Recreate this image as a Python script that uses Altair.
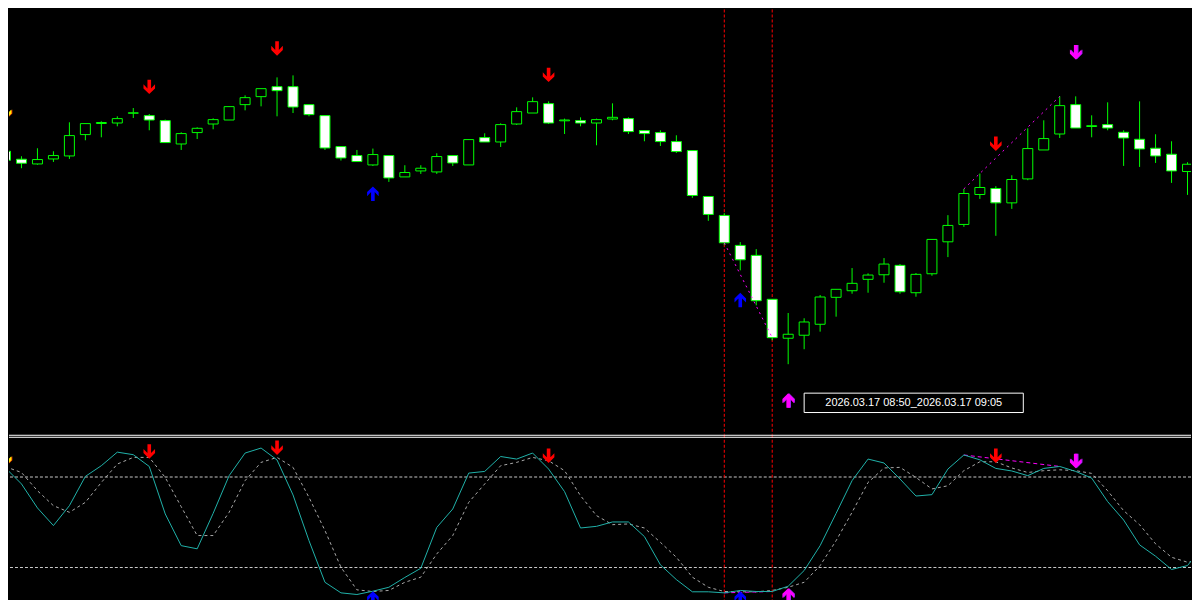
import altair as alt
import pandas as pd

# ---------------- price candles (bar index 0..75) ----------------
opens = [850, 842, 837.3, 842.3, 845.3, 866.7, 877.8, 878.3, 888.1, 885.7,
         880.7, 857.3, 868.7, 877.3, 881.3, 896.7, 904.7, 914.7, 914.7, 896.7,
         885.7, 854.7, 845.7, 836.3, 845.7, 824.3, 830.3, 829.3, 845.7, 836.3,
         863.7, 859.3, 877.3, 888.3, 897.7, 880.5, 880.7, 878.3, 882.3, 882.7,
         870.7, 868.7, 859.7, 850.7, 804.7, 785.7, 755.7, 745.7, 701.7, 662.7,
         665.7, 676.7, 703.7, 710.3, 721.7, 726.3, 735.7, 708.3, 727.3, 759.3,
         776.7, 806.7, 812.7, 798.3, 822.3, 851.3, 867.3, 896.7, 874.8, 876.7,
         869, 862, 853, 847, 829.7, 835]
highs = [855, 845, 853, 850, 879, 877.7, 880, 885, 893.3, 887.3,
         881.7, 869, 874, 883, 894.7, 906, 912.7, 924, 926, 896.7,
         885.7, 854.7, 851.3, 852.7, 845.7, 836, 836, 848, 845.7, 861.7,
         868, 878, 894, 904, 900, 882.7, 884, 882.7, 898, 884,
         870.7, 871, 866, 850.7, 804.7, 788, 759, 752, 701.7, 688,
         682.7, 706, 711.7, 733, 727.7, 743, 737, 728, 761.7, 786,
         812.3, 827.7, 815, 826, 873, 881, 905, 905, 886, 899,
         871, 900, 867, 860, 839, 862]
lows = [839, 833, 836.5, 839.3, 842.3, 861, 864, 875, 883.3, 871,
        858.7, 851.3, 862.3, 872, 881.3, 891, 895, 885, 888.3, 885,
        851.3, 840.7, 839.7, 835.3, 819.3, 824.3, 827.3, 827.3, 835.3, 836.3,
        859.3, 854.3, 876.3, 888.3, 877.3, 867.3, 875, 856, 881, 867.3,
        860, 855.3, 848.3, 803.3, 780.3, 756, 730.7, 695.7, 660.7, 636.7,
        651.7, 669.3, 684.3, 707.3, 708.3, 718.3, 707.3, 704.3, 725.3, 744,
        774.3, 802.3, 765.3, 792.3, 821, 851.3, 863.3, 873.3, 864, 871,
        835.3, 834.3, 838.3, 818.3, 806.3, 833]
closes = [841, 838, 841.7, 845.7, 865.7, 877.7, 878.8, 882.7, 888.5, 881.3,
          858.7, 867.7, 873, 881.7, 894.7, 903.7, 912.7, 910.7, 894.3, 886.7,
          853.3, 843.3, 839.7, 846.7, 823.3, 828.7, 833, 844.7, 838.3, 861.7,
          859.3, 876.7, 889.7, 899.7, 878.3, 881.3, 878.3, 881.7, 884, 869.7,
          867.7, 859.7, 849.7, 805.7, 786.7, 758.3, 741.3, 700.3, 663.3, 666.7,
          679, 704, 711.7, 717.7, 726, 737, 709.3, 726.7, 761.7, 775.7,
          807.7, 813.7, 798.3, 821.7, 852.7, 862.7, 895.7, 873.3, 875.6, 873.3,
          863.3, 852.3, 845.3, 830.3, 837, 860]

# ---------------- stochastic oscillator ----------------
stoch_main = [86.0, 75.4, 59.5, 47.8, 61.0, 80.4, 87.5, 96.5, 94.8, 87.0,
              55.5, 34.5, 32.4, 55.9, 80.9, 95.9, 99.2, 91.3, 68.1, 37.8,
              10.2, 3.2, 2.1, 4.3, 6.9, 13.4, 19.5, 46.6, 58.8, 82.6,
              83.7, 93.6, 91.9, 95.9, 85.3, 70.3, 46.2, 47.3, 50.2, 50.2,
              40.5, 21.8, 12.0, 3.9, 3.9, 3.2, 4.8, 4.1, 4.1, 7.6,
              18.0, 34.5, 55.9, 77.6, 91.9, 89.3, 78.7, 67.4, 68.3, 85.3,
              94.6, 91.4, 85.7, 84.0, 80.9, 85.7, 87.0, 83.7, 79.3, 63.7,
              51.5, 35.0, 27.5, 18.7, 21.3, 34.5]
stoch_signal = [86.8, 83.0, 70.9, 61.0, 56.6, 63.2, 76.4, 88.6, 93.0, 93.0,
                79.7, 60.3, 41.2, 41.2, 56.6, 77.6, 89.7, 93.0, 86.4, 66.5,
                44.5, 20.2, 5.2, 4.1, 4.8, 10.2, 13.6, 29.0, 41.2, 63.2,
                75.4, 87.5, 89.7, 93.0, 90.8, 84.2, 67.6, 54.4, 48.4, 48.9,
                46.2, 36.7, 26.8, 13.6, 6.9, 4.1, 3.9, 3.9, 4.8, 6.9,
                10.2, 21.3, 37.8, 56.6, 76.4, 86.0, 86.4, 79.7, 72.1, 74.2,
                84.2, 90.1, 90.1, 86.0, 83.0, 84.2, 84.8, 84.2, 82.4, 70.9,
                57.7, 48.4, 35.7, 26.8, 23.5, 25.3]
stoch_levels = [80, 20]

# ---------------- signals ----------------
sig_bar = [0, 9, 17, 23, 34, 46, 49, 62, 67]
sig_type = ["start", "sell", "sell", "buy", "sell", "buy", "div_buy", "sell", "div_sell"]
sig_price = [889.3, 914.5, 953.0, 807.5, 926.5, 701.0, 600.3, 857.5, 949.2]
sig_osc = [92.1, 96.9, 99.4, -0.5, 94.1, -0.5, 1.5, 94.1, 90.6]

# divergence segments
div_seg = ["a", "a", "b", "b"]
div_bar = [45, 48, 60, 66]
div_price = [758.3, 663.3, 812.3, 905.0]
div_osc = [3.2, 4.1, 94.6, 87.0]

# time-range marker lines
vline_bars = [45, 48]
range_label = "2026.03.17 08:50_2026.03.17 09:05"

# ---------------- frames ----------------
n = len(opens)
candles = pd.DataFrame({"i": list(range(n)), "open": opens, "high": highs,
                        "low": lows, "close": closes})
candles["dir"] = ["up" if c >= o else "down" for o, c in zip(opens, closes)]
stoch = pd.DataFrame({"i": list(range(len(stoch_main))), "main": stoch_main,
                      "signal": stoch_signal})
sigs = pd.DataFrame({"i": sig_bar, "type": sig_type, "price": sig_price, "osc": sig_osc})
divs = pd.DataFrame({"seg": div_seg, "i": div_bar, "price": div_price, "osc": div_osc})
vlines = pd.DataFrame({"i": vline_bars})
levels = pd.DataFrame({"v": stoch_levels})
label_box = pd.DataFrame({"i": [50.0], "i2": [63.72], "p": [588.3], "p2": [607.7],
                          "ic": [56.86], "pc": [598.0], "text": [range_label]})
dummy = pd.DataFrame({"a": [0]})

W = 1184
H_TOP = 426
H_BOT = 166
GREEN = "#00FF00"

xs = alt.Scale(domain=[0.21875, 74.21875], nice=False, zero=False, padding=0)
ys_top = alt.Scale(domain=[566, 992], nice=False, zero=False)
ys_bot = alt.Scale(domain=[-1.87, 108.0], nice=False, zero=False)
X = alt.X("i:Q", scale=xs, axis=None)

DOWN = "M-0.25,-1L0.25,-1L0.25,0.22L0.8,-0.36L0.8,0.22L0,1L-0.8,0.22L-0.8,-0.36L-0.25,0.22Z"
UP = "M-0.25,1L0.25,1L0.25,-0.22L0.8,0.36L0.8,-0.22L0,-1L-0.8,-0.22L-0.8,0.36L-0.25,-0.22Z"
ARROW_SIZE = 210
ARROWS = {
    "start": (DOWN, "#FFEE00", "#FF5000"),
    "sell": (DOWN, "#FF0000", None),
    "buy": (UP, "#0000FF", None),
    "div_sell": (DOWN, "#FF00FF", "#A020F0"),
    "div_buy": (UP, "#FF00FF", "#A020F0"),
}


def arrow_layers(field, yscale):
    out = []
    for t, (shape, col, shade) in ARROWS.items():
        sub = sigs[sigs["type"] == t]
        if len(sub) == 0:
            continue
        enc = dict(x=X, y=alt.Y(f"{field}:Q", scale=yscale, axis=None))
        if shade:
            out.append(alt.Chart(sub).mark_point(shape=shape, filled=True, size=ARROW_SIZE, opacity=1,
                                                 strokeWidth=0, color=shade, xOffset=1,
                                                 clip=True).encode(**enc))
        out.append(alt.Chart(sub).mark_point(shape=shape, filled=True, size=ARROW_SIZE, opacity=1,
                                             strokeWidth=0, color=col, clip=True).encode(**enc))
    return out


# ---------------- top panel ----------------
t_vlines = alt.Chart(vlines).mark_rule(color="#FF0000", strokeWidth=1, strokeDash=[3, 2]).encode(x=X)
t_wicks = alt.Chart(candles).mark_rule(color=GREEN, strokeWidth=1, clip=True).encode(
    x=X, y=alt.Y("low:Q", scale=ys_top, axis=None), y2="high:Q")
t_bodies = alt.Chart(candles).mark_bar(width=10, stroke=GREEN, strokeWidth=1, clip=True, opacity=1).encode(
    x=X, y=alt.Y("open:Q", scale=ys_top, axis=None), y2="close:Q",
    color=alt.Color("dir:N", scale=alt.Scale(domain=["up", "down"], range=["#000000", "#FFFFFF"]), legend=None))
t_div = alt.Chart(divs).mark_line(color="#FF00FF", strokeWidth=1, strokeDash=[2, 4], clip=True).encode(
    x=X, y=alt.Y("price:Q", scale=ys_top, axis=None), detail="seg:N")
t_box = alt.Chart(label_box).mark_rect(fill="#000000", stroke="#FFFFFF", strokeWidth=1).encode(
    x=alt.X("i:Q", scale=xs, axis=None), x2="i2:Q",
    y=alt.Y("p:Q", scale=ys_top, axis=None), y2="p2:Q")
t_text = alt.Chart(label_box).mark_text(color="#FFFFFF", font="Liberation Sans", fontSize=11,
                                        align="center", baseline="middle").encode(
    x=alt.X("ic:Q", scale=xs, axis=None), y=alt.Y("pc:Q", scale=ys_top, axis=None), text="text:N")

top = alt.layer(t_vlines, t_wicks, t_bodies, t_div, *arrow_layers("price", ys_top), t_box, t_text).properties(
    width=W, height=H_TOP)

# ---------------- bottom panel ----------------
b_sep1 = alt.Chart(dummy).mark_rule(color="#FFFFFF", strokeWidth=1).encode(
    x=alt.value(0), x2=alt.value(W), y=alt.value(0.5))
b_sep2 = alt.Chart(dummy).mark_rule(color="#FFFFFF", strokeWidth=1).encode(
    x=alt.value(0), x2=alt.value(W), y=alt.value(2.5))
b_levels = alt.Chart(levels).mark_rule(color="#C8C8C8", strokeWidth=1, strokeDash=[3, 2]).encode(
    y=alt.Y("v:Q", scale=ys_bot, axis=None))
b_vlines = alt.Chart(vlines).mark_rule(color="#FF0000", strokeWidth=1, strokeDash=[3, 2]).encode(x=X)
b_signal = alt.Chart(stoch).mark_line(color="#A8A8A8", strokeWidth=1, strokeDash=[3, 3], clip=True).encode(
    x=X, y=alt.Y("signal:Q", scale=ys_bot, axis=None))
b_div = alt.Chart(divs).mark_line(color="#FF00FF", strokeWidth=1, strokeDash=[4, 3], clip=True).encode(
    x=X, y=alt.Y("osc:Q", scale=ys_bot, axis=None), detail="seg:N")
b_main = alt.Chart(stoch).mark_line(color="#20B2AA", strokeWidth=1, clip=True).encode(
    x=X, y=alt.Y("main:Q", scale=ys_bot, axis=None))

bottom = alt.layer(b_levels, b_vlines, b_signal, b_div, b_main, *arrow_layers("osc", ys_bot),
                   b_sep1, b_sep2).properties(width=W, height=H_BOT)

chart = alt.vconcat(top, bottom, spacing=0, bounds="flush").properties(
    padding=0, background="#000000"
).configure_view(stroke=None, fill="#000000")

chart.save("out.html", embed_options={"renderer": "svg", "actions": False})
